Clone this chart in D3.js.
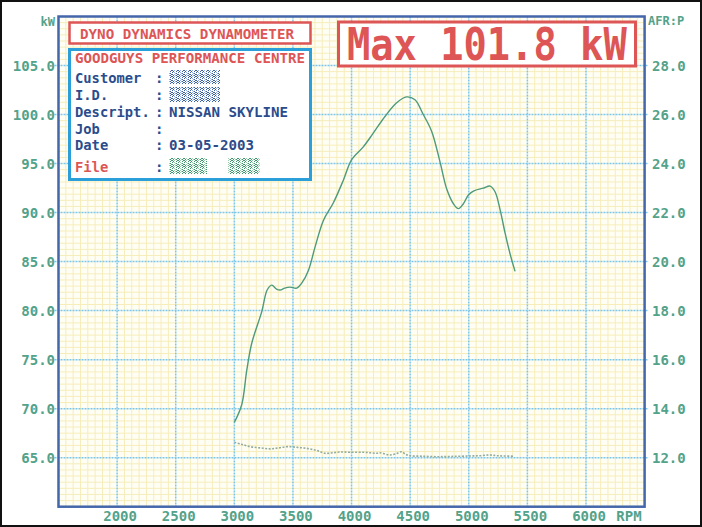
<!DOCTYPE html>
<html>
<head>
<meta charset="utf-8">
<script src="https://cdnjs.cloudflare.com/ajax/libs/d3/7.8.5/d3.min.js"></script>
<style>
html,body{margin:0;padding:0;background:#fff;}
svg{display:block;}
</style>
</head>
<body>
<svg id="chart" width="702" height="527"></svg>
<script>
// ---------- DATA ----------
const powerRpm = [3000,3063,3106,3149,3234,3280,3319,3360,3390,3430,3475,3532,3575,3632,3689,3760,3845,3930,4001,4100,4185,4285,4385,4470,4541,4612,4683,4754,4812,4869,4912,4954,4997,5040,5125,5182,5225,5267,5310,5352,5395];
const powerKw  = [68.6,70.4,73.9,76.7,79.9,82.1,82.6,82.2,82.1,82.3,82.4,82.3,82.8,84.1,86.5,89.2,91.0,93.3,95.4,96.7,98.1,99.8,101.2,101.8,101.5,100.0,98.3,95.2,92.4,90.9,90.4,90.9,91.8,92.2,92.5,92.7,92.1,90.3,87.9,85.8,84.0];
const afrRpm = [3000,3060,3134,3220,3305,3380,3461,3540,3618,3700,3774,3840,3902,4000,4101,4160,4215,4243,4290,4328,4380,4428,4460,4499,4600,4727,4850,5011,5100,5182,5240,5295,5380];
const afrVal = [12.63,12.55,12.45,12.40,12.36,12.40,12.45,12.42,12.38,12.30,12.18,12.20,12.23,12.22,12.22,12.20,12.18,12.20,12.14,12.11,12.16,12.24,12.14,12.08,12.06,12.04,12.05,12.07,12.08,12.11,12.08,12.07,12.06];
const rpmTicks = [2000,2500,3000,3500,4000,4500,5000,5500,6000];
const kwTicks = [65,70,75,80,85,90,95,100,105];
const afrTicks = [12,14,16,18,20,22,24,26,28];
const maxLabel = "Max 101.8 kW";
const headerTitle = "DYNO DYNAMICS DYNAMOMETER";
const shopName = "GOODGUYS PERFORMANCE CENTRE";
const infoLabels = ["Customer","I.D.","Descript.","Job","Date","File"];
const infoValues = ["", "", "NISSAN SKYLINE", "", "03-05-2003", ""];

// ---------- LAYOUT ----------
const svg = d3.select("#chart");
const L = 58.5, R = 644.6, T = 16.5, B = 506.7;
const x = d3.scaleLinear().domain([1500,6500]).range([L,R]);
const yK = d3.scaleLinear().domain([60,110]).range([B,T]);
const yA = d3.scaleLinear().domain([10,30]).range([B,T]);
const mono = "'DejaVu Sans Mono', 'Liberation Mono', monospace";
const tickCol = "#53a28a";

svg.append("rect").attr("width",702).attr("height",527).attr("fill","#fff");
svg.append("rect").attr("x",1).attr("y",1).attr("width",700).attr("height",525)
  .attr("fill","none").attr("stroke","#111").attr("stroke-width",2);

// plot background
svg.append("rect").attr("x",L).attr("y",T).attr("width",R-L).attr("height",B-T).attr("fill","#fffef4");

// minor grid
const minorG = svg.append("g");
const minorX = d3.range(1500,6500,62.5).filter(v=>v%500!==0);
const minorY = d3.range(60,110,0.625).filter(v=>Math.abs(v%5)>1e-6);
minorG.selectAll("line.mx").data(minorX).join("line")
  .attr("x1",d=>x(d)).attr("x2",d=>x(d)).attr("y1",T).attr("y2",B)
  .attr("stroke","#f6edbb").attr("stroke-width",1);
minorG.selectAll("line.my").data(minorY).join("line")
  .attr("y1",d=>yK(d)).attr("y2",d=>yK(d)).attr("x1",L).attr("x2",R)
  .attr("stroke","#f6edbb").attr("stroke-width",1);

// major grid
const majorG = svg.append("g");
majorG.selectAll("line.vx").data(rpmTicks).join("line")
  .attr("x1",d=>x(d)).attr("x2",d=>x(d)).attr("y1",T).attr("y2",B)
  .attr("stroke","#7cc6ea").attr("stroke-width",1.5).attr("stroke-dasharray","2,1");
majorG.selectAll("line.hy").data(kwTicks).join("line")
  .attr("y1",d=>yK(d)).attr("y2",d=>yK(d)).attr("x1",L-4).attr("x2",R+4)
  .attr("stroke","#7cc6ea").attr("stroke-width",1.5).attr("stroke-dasharray","2,1");

// frame
svg.append("rect").attr("x",L).attr("y",T).attr("width",R-L).attr("height",B-T)
  .attr("fill","none").attr("stroke","#4466aa").attr("stroke-width",2.5);

// axis labels
const leftAxis = svg.append("g");
leftAxis.selectAll("text").data(kwTicks).join("text")
  .attr("x",55).attr("y",d=>yK(d)+5).attr("text-anchor","end")
  .attr("font-family",mono).attr("font-weight","bold").attr("font-size",14)
  .attr("fill",tickCol).text(d=>d3.format(".1f")(d));
svg.append("text").attr("x",55).attr("y",26).attr("text-anchor","end")
  .attr("font-family",mono).attr("font-weight","bold").attr("font-size",12)
  .attr("fill",tickCol).text("kW");

const rightAxis = svg.append("g");
rightAxis.selectAll("text").data(afrTicks).join("text")
  .attr("x",652).attr("y",d=>yA(d)+5).attr("text-anchor","start")
  .attr("font-family",mono).attr("font-weight","bold").attr("font-size",14)
  .attr("fill",tickCol).text(d=>d3.format(".1f")(d));
svg.append("text").attr("x",648).attr("y",25).attr("text-anchor","start")
  .attr("font-family",mono).attr("font-weight","bold").attr("font-size",12)
  .attr("fill",tickCol).text("AFR:P");

const bottomAxis = svg.append("g");
bottomAxis.selectAll("text").data(rpmTicks).join("text")
  .attr("x",d=>x(d)+3).attr("y",521).attr("text-anchor","middle")
  .attr("font-family",mono).attr("font-weight","bold").attr("font-size",14)
  .attr("fill",tickCol).text(d=>d);
svg.append("text").attr("x",629).attr("y",521).attr("text-anchor","middle")
  .attr("font-family",mono).attr("font-weight","bold").attr("font-size",14)
  .attr("fill",tickCol).text("RPM");

// curves
const powerLine = d3.line().x(d=>x(d[0])).y(d=>yK(d[1])).curve(d3.curveCatmullRom.alpha(0.5));
svg.append("path").datum(powerRpm.map((r,i)=>[r,powerKw[i]]))
  .attr("d",powerLine).attr("fill","none").attr("stroke","#4d9a7c").attr("stroke-width",1.4);
const afrLine = d3.line().x(d=>x(d[0])).y(d=>yA(d[1])).curve(d3.curveCatmullRom.alpha(0.5));
svg.append("path").datum(afrRpm.map((r,i)=>[r,afrVal[i]]))
  .attr("d",afrLine).attr("fill","none").attr("stroke","#93ac9f").attr("stroke-width",1.6)
  .attr("stroke-dasharray","2,1.5");

// Max box
svg.append("rect").attr("x",338.5).attr("y",22).attr("width",297).attr("height",44)
  .attr("fill","#fff").attr("stroke","#dd5555").attr("stroke-width",3);
// natural width of 12 mono glyphs at 44px ≈ 318px; squeeze to ~280px
svg.append("text").attr("transform","translate(347,60) scale(0.88,1)")
  .attr("x",0).attr("y",0)
  .attr("font-family",mono).attr("font-weight","bold").attr("font-size",44)
  .attr("fill","#dd5555")
  .text(maxLabel);

// header box
svg.append("rect").attr("x",69.5).attr("y",22.5).attr("width",241).attr("height",21)
  .attr("fill","#fff").attr("stroke","#dd5555").attr("stroke-width",2.5);
svg.append("text").attr("x",80).attr("y",39)
  .attr("font-family",mono).attr("font-weight","bold").attr("font-size",14)
  .attr("fill","#dd5555").attr("textLength",214).attr("lengthAdjust","spacingAndGlyphs")
  .text(headerTitle);

// info box
svg.append("rect").attr("x",69.5).attr("y",49.5).attr("width",241).attr("height",130)
  .attr("fill","#fff").attr("stroke","#2b9fd9").attr("stroke-width",3);
svg.append("text").attr("x",75).attr("y",63)
  .attr("font-family",mono).attr("font-weight","bold").attr("font-size",14)
  .attr("fill","#dd5555").attr("textLength",230).attr("lengthAdjust","spacingAndGlyphs")
  .text(shopName);

// dither patterns
const defs = svg.append("defs");
function dither(id, c1, c2){
  const p = defs.append("pattern").attr("id",id).attr("width",6).attr("height",6)
    .attr("patternUnits","userSpaceOnUse");
  p.append("rect").attr("width",6).attr("height",6).attr("fill","#fff");
  [[0,0],[2,1],[4,0],[1,3],[3,2],[5,3],[0,4],[2,5],[4,4],[1,1],[5,5],[3,4],[0,2],[4,2],[2,3]].forEach((q,i)=>{
    p.append("rect").attr("x",q[0]).attr("y",q[1]).attr("width",1).attr("height",1)
      .attr("fill", i%3===0 ? c2 : c1);
  });
}
dither("ditherBlue","#3a5fa8","#8fb0e0");
dither("ditherGreen","#3b9a6a","#9ed0b0");

const rowY = [82.5,99.5,116.5,133.5,150,171.5];
const info = svg.append("g");
infoLabels.forEach((lab,i)=>{
  const isFile = lab==="File";
  const col = isFile ? "#dd5555" : "#2b4c8c";
  info.append("text").attr("x",75).attr("y",rowY[i])
    .attr("font-family",mono).attr("font-weight","bold").attr("font-size",14)
    .attr("fill",col).attr("textLength",lab.length*8.3).attr("lengthAdjust","spacingAndGlyphs")
    .text(lab);
  info.append("text").attr("x",155).attr("y",rowY[i])
    .attr("font-family",mono).attr("font-weight","bold").attr("font-size",14)
    .attr("fill","#2b4c8c").text(":");
  if(infoValues[i]){
    info.append("text").attr("x",169).attr("y",rowY[i])
      .attr("font-family",mono).attr("font-weight","bold").attr("font-size",14)
      .attr("fill","#2b4c8c").attr("textLength",infoValues[i].length*8.5).attr("lengthAdjust","spacingAndGlyphs")
      .text(infoValues[i]);
  }
});
// blurred fields
info.append("rect").attr("x",169).attr("y",70).attr("width",51).attr("height",14).attr("fill","url(#ditherBlue)");
info.append("rect").attr("x",169).attr("y",87).attr("width",51).attr("height",15).attr("fill","url(#ditherBlue)");
info.append("rect").attr("x",169).attr("y",158).attr("width",38).attr("height",16).attr("fill","url(#ditherGreen)");
info.append("rect").attr("x",228).attr("y",158).attr("width",32).attr("height",16).attr("fill","url(#ditherGreen)");
</script>
</body>
</html>
